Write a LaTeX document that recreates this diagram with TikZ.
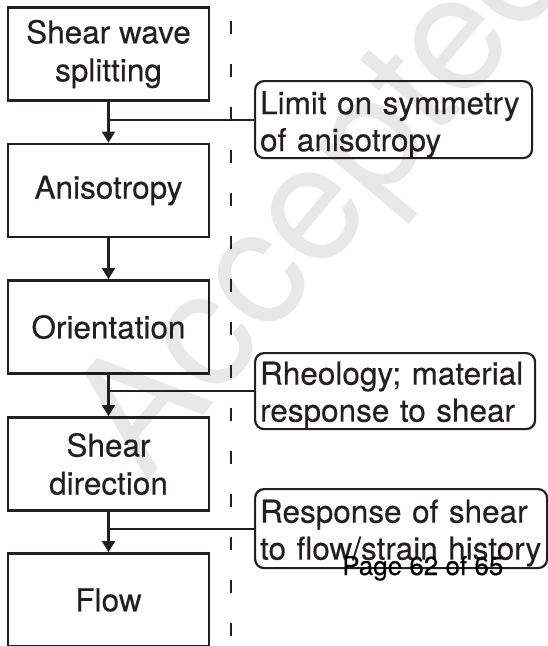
\documentclass[tikz,border=0pt]{standalone}
\usepackage{fontspec}
\setmainfont{TeX Gyre Heros}[FakeBold=0.35]
\newfontfamily\plainfont{TeX Gyre Heros}
\usetikzlibrary{arrows.meta}
\definecolor{ink}{HTML}{231F20}
\definecolor{wmgrey}{HTML}{E8E8E8}
\newcommand\mystrut[1]{\rule{0pt}{#1}}
\begin{document}
\begin{tikzpicture}[x=1pt,y=-1pt,
  stepbox/.style={draw=ink, line width=2.8pt, minimum width=201pt, minimum height=93pt,
    inner sep=0pt, align=center, text=ink, font=\fontsize{31.5}{38}\selectfont},
  note/.style={draw=ink, line width=2.2pt, rounded corners=9pt, anchor=north west,
    inner xsep=5pt, inner ysep=0pt, align=left, text=ink, font=\fontsize{31.5}{37}\selectfont},
  flowarrow/.style={draw=ink, line width=2.1pt, -{Triangle[length=11pt,width=13pt]}},
  branch/.style={draw=ink, line width=2.1pt},
  divider/.style={draw=ink, line width=1.3pt, dash pattern=on 13pt off 30pt},
]
\useasboundingbox (0,0) rectangle (548,646);
% watermark
\node[rotate=50, text=wmgrey, font=\plainfont\fontsize{162}{162}\selectfont, inner sep=0pt] (wm) at (330,200) {Accepted};
% dashed divider
\coordinate (dtop) at (231,21);
\coordinate (dbot) at (231,646);
\draw[divider] (dtop) -- (dbot);
% main boxes
\node[stepbox] (b1) at (108.5,54) {Shear wave\\splitting};
\node[stepbox] (b2) at (108.5,190.5) {Anisotropy};
\node[stepbox] (b3) at (108.5,327) {Orientation};
\node[stepbox] (b4) at (108.5,464) {Shear\\direction};
\node[stepbox] (b5) at (108.5,600) {Flow};
% callouts
\node[note, minimum height=77pt, text width=267pt] (n1) at (254,80) {\mystrut{33pt}Limit on symmetry\\of anisotropy};
\node[note, minimum height=76pt, text width=270pt] (n2) at (254,352) {\mystrut{31pt}Rheology; material\\response to shear};
\node[note, minimum height=79pt, text width=282pt] (n3) at (254,488) {\mystrut{32pt}Response of shear\\to flow/strain history};
% arrows
\draw[flowarrow] (b1.south) -- (b2.north);
\draw[flowarrow] (b2.south) -- (b3.north);
\draw[flowarrow] (b3.south) -- (b4.north);
\draw[flowarrow] (b4.south) -- (b5.north);
% branches
\draw[branch] (n1.west) -- (n1.west -| b1.south);
\draw[branch] (n2.west) -- (n2.west -| b3.south);
\draw[branch] (n3.west) -- (n3.west -| b4.south);
% page footer
\node[anchor=base west, inner sep=0pt, text=black, font=\fontsize{26}{26}\selectfont] (pg) at (342,575) {Page 62 of 65};
\end{tikzpicture}
\end{document}
